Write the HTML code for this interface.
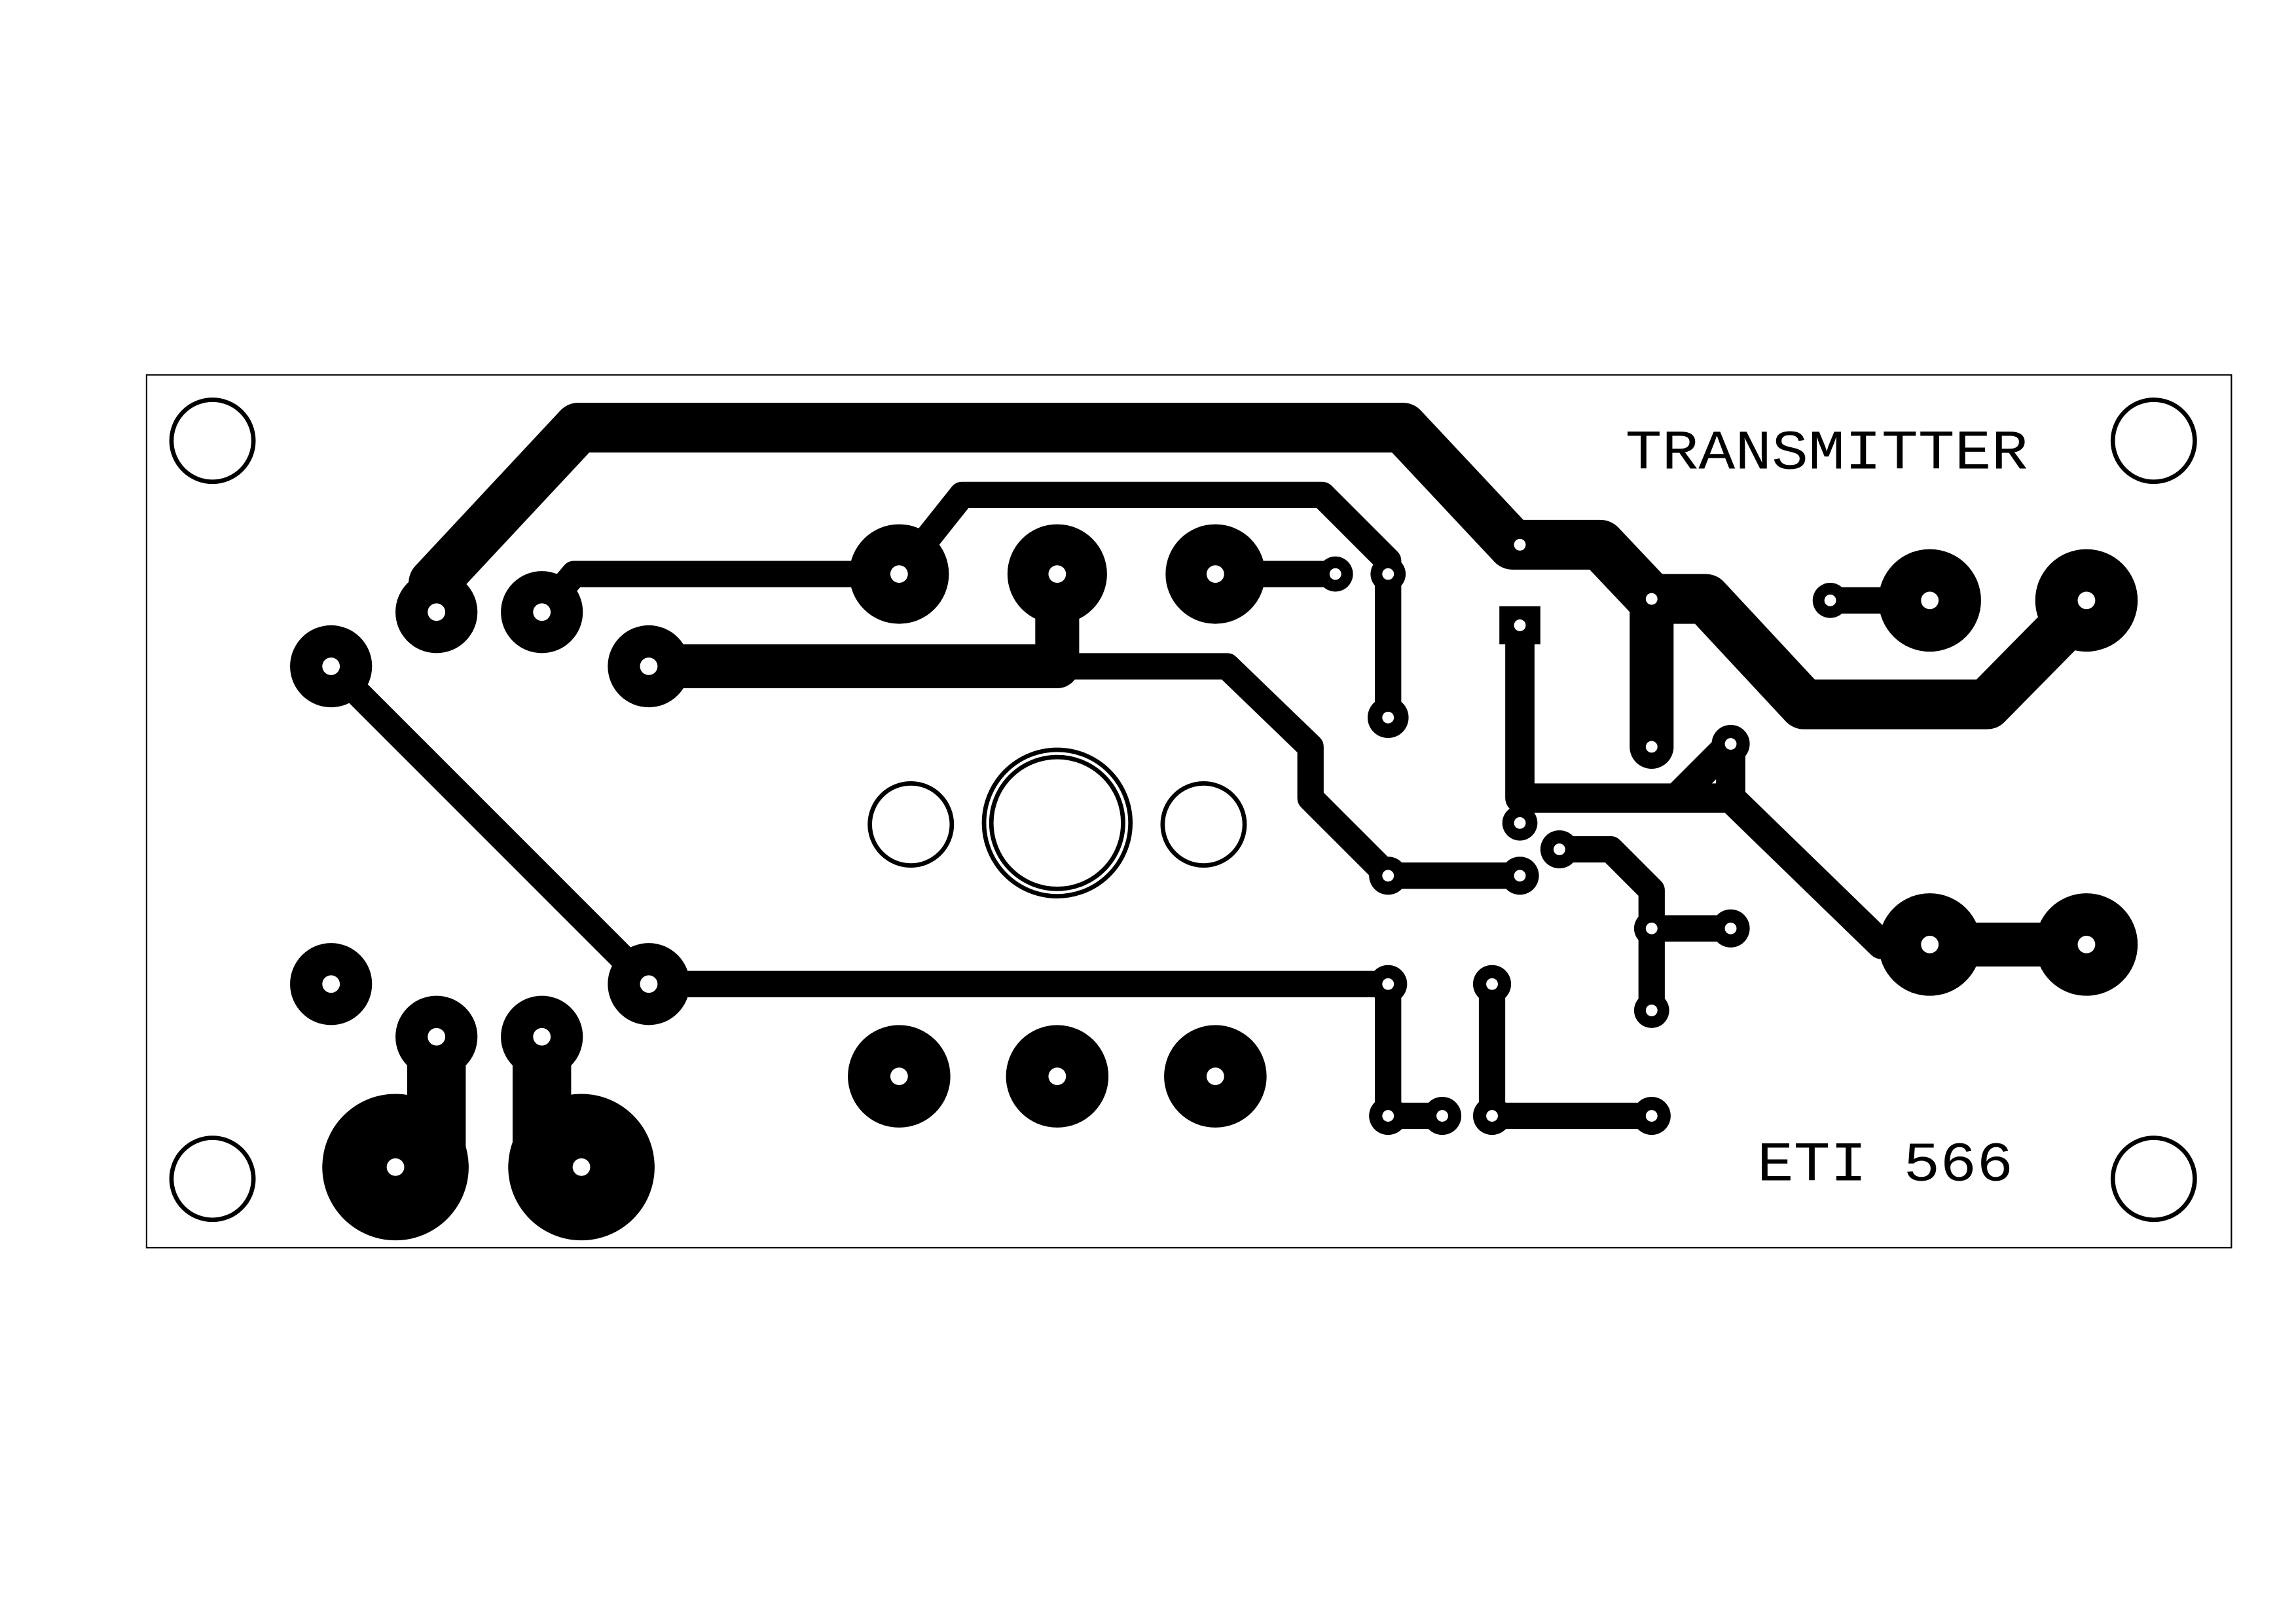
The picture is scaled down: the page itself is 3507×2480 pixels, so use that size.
<!DOCTYPE html>
<html><head><meta charset="utf-8"><style>
html,body{margin:0;padding:0;background:#fff;}
svg{display:block;}
</style></head><body>
<svg width="3507" height="2480" viewBox="0 0 1568 1109" xmlns="http://www.w3.org/2000/svg">
<rect x="0" y="0" width="1568" height="1109" fill="#fff"/>
<rect x="100" y="256" width="1424" height="596" fill="none" stroke="#000" stroke-width="1"/>
<g fill="none" stroke="#000" stroke-width="3">
<circle cx="145" cy="301" r="28"/><circle cx="1471" cy="301" r="28"/>
<circle cx="145" cy="805" r="28"/><circle cx="1471" cy="805" r="28"/>
<circle cx="622" cy="563" r="28"/><circle cx="822" cy="563" r="28"/>
<circle cx="722" cy="562" r="50"/><circle cx="722" cy="562" r="45"/>
</g>
<g fill="none" stroke="#000" stroke-linejoin="round" stroke-linecap="round">
<polyline stroke-width="34" points="296,398 395,292 958,292 1033,372 1093,372 1128,409 1165,409 1232,481 1357,481 1425,412"/>
<polyline stroke-width="30" points="1128,409 1128,510"/>
<polyline stroke-width="18" points="370,418 392,392 614,392"/>
<polyline stroke-width="18" points="614,392 657,338 903,338 948,383 948,490"/>
<polyline stroke-width="30" points="443,455 722,455 722,392"/>
<polyline stroke-width="18" points="722,455 838,455 895,510 895,545 948,598 1038,598"/>
<polyline stroke-width="18" points="830,392 912,392"/>
<polyline stroke-width="18" points="226,455 443,672 948,672 948,762 985,762"/>
<polyline stroke-width="18" points="1019,672 1019,762 1128,762"/>
<polyline stroke-width="20" points="1038,427 1038,545 1182,545 1182,508"/>
<polyline stroke-width="14" points="1038,545 1038,562"/>
<polyline stroke-width="20" points="1145,545 1182,508"/>
<polyline stroke-width="20" points="1182,545 1285,645 1318,645"/>
<polyline stroke-width="18" points="1065,580 1100,580 1128,608 1128,690"/>
<polyline stroke-width="18" points="1128,634 1182,634"/>
<polyline stroke-width="18" points="1250,410 1318,410"/>
<polyline stroke-width="30" points="1318,645 1425,645"/>
<polyline stroke-width="40" points="298,708 298,790"/>
<polyline stroke-width="40" points="370,708 370,790"/>
</g>
<rect x="1024" y="414" width="28" height="26" fill="#000"/>
<g fill="#000">
<circle cx="614" cy="392" r="34"/><circle cx="722" cy="392" r="34"/><circle cx="830" cy="392" r="34"/>
<circle cx="614" cy="735" r="35"/><circle cx="722" cy="735" r="35"/><circle cx="830" cy="735" r="35"/>
<circle cx="1318" cy="410" r="35"/><circle cx="1425" cy="410" r="35"/>
<circle cx="1318" cy="645" r="35"/><circle cx="1425" cy="645" r="35"/>
<circle cx="298" cy="418" r="28"/><circle cx="370" cy="418" r="28"/>
<circle cx="226" cy="455" r="28"/><circle cx="443" cy="455" r="28"/>
<circle cx="226" cy="672" r="28"/><circle cx="443" cy="672" r="28"/>
<circle cx="298" cy="708" r="28"/><circle cx="370" cy="708" r="28"/>
<circle cx="270" cy="797" r="50"/><circle cx="397" cy="797" r="50"/>
<circle cx="948" cy="392" r="12"/><circle cx="912" cy="392" r="12"/><circle cx="948" cy="490" r="14"/>
<circle cx="1038" cy="372" r="10"/><circle cx="1128" cy="510" r="14"/>
<circle cx="1182" cy="508" r="13"/><circle cx="1038" cy="562" r="12"/><circle cx="1065" cy="580" r="13"/>
<circle cx="948" cy="598" r="13"/><circle cx="1038" cy="598" r="13"/>
<circle cx="1128" cy="634" r="12"/><circle cx="1182" cy="634" r="13"/><circle cx="1128" cy="690" r="12"/>
<circle cx="948" cy="672" r="13"/><circle cx="1019" cy="672" r="13"/>
<circle cx="948" cy="762" r="13"/><circle cx="985" cy="762" r="13"/>
<circle cx="1019" cy="762" r="13"/><circle cx="1128" cy="762" r="13"/>
<circle cx="1250" cy="410" r="12"/>
</g>
<g fill="#fff">
<circle cx="614" cy="392" r="6"/><circle cx="722" cy="392" r="6"/><circle cx="830" cy="392" r="6"/>
<circle cx="614" cy="735" r="6"/><circle cx="722" cy="735" r="6"/><circle cx="830" cy="735" r="6"/>
<circle cx="1318" cy="410" r="6"/><circle cx="1425" cy="410" r="6"/>
<circle cx="1318" cy="645" r="6"/><circle cx="1425" cy="645" r="6"/>
<circle cx="298" cy="418" r="6"/><circle cx="370" cy="418" r="6"/>
<circle cx="226" cy="455" r="6"/><circle cx="443" cy="455" r="6"/>
<circle cx="226" cy="672" r="6"/><circle cx="443" cy="672" r="6"/>
<circle cx="298" cy="708" r="6"/><circle cx="370" cy="708" r="6"/>
<circle cx="270" cy="797" r="6"/><circle cx="397" cy="797" r="6"/>
<circle cx="948" cy="392" r="4"/><circle cx="912" cy="392" r="4"/><circle cx="948" cy="490" r="4"/>
<circle cx="1038" cy="372" r="4"/><circle cx="1128" cy="409" r="4"/><circle cx="1128" cy="510" r="4"/>
<circle cx="1038" cy="427" r="4"/>
<circle cx="1182" cy="508" r="4"/><circle cx="1038" cy="562" r="4"/><circle cx="1065" cy="580" r="4"/>
<circle cx="948" cy="598" r="4"/><circle cx="1038" cy="598" r="4"/>
<circle cx="1128" cy="634" r="4"/><circle cx="1182" cy="634" r="4"/><circle cx="1128" cy="690" r="4"/>
<circle cx="948" cy="672" r="4"/><circle cx="1019" cy="672" r="4"/>
<circle cx="948" cy="762" r="4"/><circle cx="985" cy="762" r="4"/>
<circle cx="1019" cy="762" r="4"/><circle cx="1128" cy="762" r="4"/>
<circle cx="1250" cy="410" r="4"/>
</g>
<text x="1110" y="320" font-family="Liberation Mono, monospace" font-size="38" textLength="275" lengthAdjust="spacingAndGlyphs" fill="#000">TRANSMITTER</text>
<text x="1200" y="806" font-family="Liberation Mono, monospace" font-size="38" textLength="175" lengthAdjust="spacingAndGlyphs" fill="#000">ETI 566</text>
</svg>
</body></html>
